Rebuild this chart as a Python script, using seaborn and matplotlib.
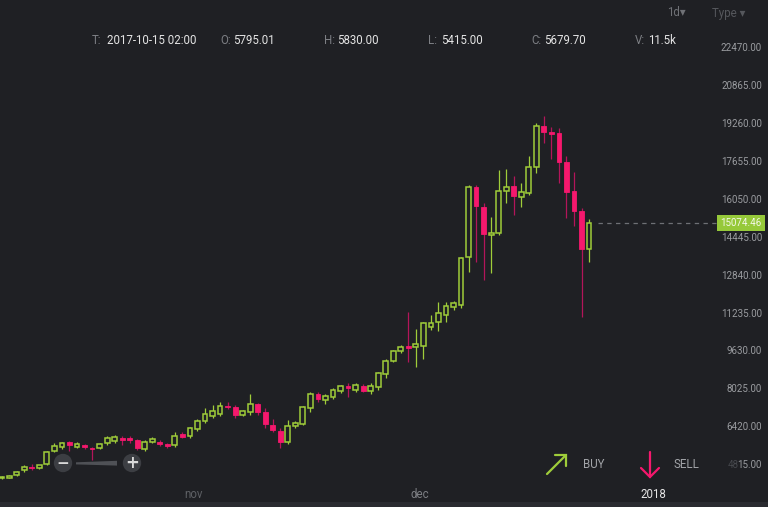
import numpy as np
import pandas as pd
import matplotlib
matplotlib.use("Agg")
import matplotlib.pyplot as plt
import matplotlib.dates as mdates
from matplotlib.patches import Ellipse, Polygon, Rectangle
import seaborn as sns

# ---------------- data (daily candles) ----------------
dates = pd.date_range("2017-10-06", periods=79, freq="D")
opens = [4260, 4285, 4400, 4610, 4750, 4695, 4850, 5415, 5585, 5795.01,
         5585, 5670, 5555, 5545, 5740, 5840, 5980, 5980, 5890, 5500,
         5800, 5790, 5700, 5670, 6120, 6040, 6345, 6685, 6910, 6980,
         7330, 7290, 6960, 7055, 7405, 7080, 6515, 6275, 5790, 6490,
         6560, 7220, 7815, 7575, 7690, 7970, 8155, 8000, 8170, 7970,
         8113, 8675, 9226, 9662, 9830, 9805, 9875, 10685, 10869, 11175,
         11527, 11598, 13618, 16583, 15760, 14550, 14660, 16440, 16638, 16185,
         16330, 17430, 19180, 18940, 18895, 17667, 16426, 15592, 13957]
highs = [4360, 4400, 4560, 4820, 4850, 4840, 5420, 5740, 5810, 5830.00,
         5790, 5710, 5580, 5760, 6060, 6110, 6060, 6040, 5940, 5880,
         5990, 5880, 5770, 6200, 6200, 6430, 6750, 7250, 7380, 7500,
         7500, 7350, 7170, 7810, 7440, 7250, 6760, 6390, 6730, 6700,
         7330, 7925, 7925, 7815, 8070, 8230, 8280, 8280, 8240, 8280,
         8770, 9300, 9700, 9900, 11310, 10570, 10890, 11190, 11720, 11740,
         11780, 13650, 16680, 16680, 15930, 15338, 17315, 17345, 17060, 16775,
         17910, 19320, 19600, 19150, 19080, 17910, 17245, 15693, 15227]
lows = [4230, 4260, 4370, 4510, 4600, 4670, 4830, 5360, 5520, 5415.00,
        5550, 5510, 5040, 5510, 5650, 5740, 5680, 5740, 5460, 5400,
        5740, 5640, 5560, 5600, 5950, 5970, 6280, 6620, 6820, 6880,
        7185, 6830, 6900, 6950, 6950, 6380, 6210, 5540, 5720, 6380,
        6520, 7080, 7500, 7392, 7620, 7890, 7715, 7930, 7920, 7830,
        8000, 8500, 9180, 9550, 9200, 8960, 9300, 10520, 10500, 10870,
        11385, 11470, 13010, 13430, 12657, 12940, 14563, 15930, 15410, 15760,
        16260, 17175, 18445, 17770, 16777, 15270, 14944, 11103, 13432]
closes = [4330, 4370, 4515, 4750, 4680, 4810, 5385, 5640, 5740, 5679.70,
          5710, 5575, 5500, 5710, 5970, 6020, 5895, 5890, 5545, 5800,
          5920, 5700, 5615, 6065, 6010, 6380, 6685, 6970, 7110, 7330,
          7265, 6955, 7125, 7405, 7080, 6545, 6305, 5790, 6490, 6600,
          7265, 7816, 7617, 7745, 8000, 8170, 8070, 8200, 7960, 8170,
          8705, 9226, 9650, 9820, 9790, 9935, 10825, 10830, 11260, 11556,
          11695, 13576, 16583, 15791, 14605, 14660, 16440, 16610, 16226, 16370,
          17455, 19180, 18940, 18840, 17667, 16396, 15580, 13957, 15074.46]

price_ticks = [4815.00, 6420.00, 8025.00, 9630.00, 11235.00, 12840.00,
               14445.00, 16050.00, 17655.00, 19260.00, 20865.00, 22470.00]
month_labels = ["nov", "dec", "2018"]
month_dates = pd.to_datetime(["2017-11-01", "2017-12-01", "2018-01-01"])
header_keys = ["T:", "O:", "H:", "L:", "C:", "V:"]
header_vals = ["2017-10-15 02:00", "5795.01", "5830.00", "5415.00", "5679.70", "11.5k"]
last_price = closes[-1]

df = pd.DataFrame({"date": dates, "open": opens, "high": highs,
                   "low": lows, "close": closes})

# ---------------- style ----------------
BG = "#1f2024"
GREEN = "#9fcd3a"
RED = "#f5186d"
RED_WICK = "#b3155a"
TXT = "#9a9ca0"

sns.set_theme(style="dark", rc={"axes.facecolor": BG, "figure.facecolor": BG,
                                "axes.edgecolor": BG, "axes.grid": False})
plt.rcParams["font.family"] = ["Roboto", "DejaVu Sans"]

W, H = 768, 507
fig = plt.figure(figsize=(W / 100, H / 100), dpi=100)
ax = fig.add_axes([0, 0, 1, 1])
ax.set_facecolor(BG)
for s in ax.spines.values():
    s.set_visible(False)
ax.set_xticks([])
ax.set_yticks([])

x = mdates.date2num(df["date"]) + 0.5
x0 = x[0]
px_per_day = 7.53
ax.set_xlim(x0 - 1.7 / px_per_day, x0 + (W - 1.7) / px_per_day)
ax.set_ylim(24515 - 42.35 * H, 24515)

up = df["close"] >= df["open"]
bw = 0.64
min_h = 55

# wicks
ax.vlines(x[up], df["low"][up], df["high"][up], color=GREEN, lw=0.9, zorder=2)
ax.vlines(x[~up], df["low"][~up], df["high"][~up], color=RED_WICK, lw=0.9, zorder=2)

# bodies
body_lo = np.minimum(df["open"], df["close"])
body_h = np.maximum(np.abs(df["close"] - df["open"]), min_h)
ax.bar(x[up], body_h[up], bottom=body_lo[up], width=bw, facecolor=BG,
       edgecolor=GREEN, linewidth=1.1, zorder=3)
ax.bar(x[~up], body_h[~up], bottom=body_lo[~up], width=bw, facecolor=RED,
       edgecolor=RED, linewidth=0.6, zorder=3)

# last price dashed line
xpix_last = 598
ax.hlines(last_price, x0 + (xpix_last - 1.7) / px_per_day,
          x0 + (716 - 1.7) / px_per_day, color="#6e7075", lw=0.9,
          linestyles=(0, (3.5, 3.5)), zorder=2)

# price axis labels (right, inside)
trans = ax.get_yaxis_transform()
for p in price_ticks:
    if p == price_ticks[0]:
        ax.text(738.5 / W, p, "48", transform=trans, ha="right", va="center",
                fontsize=7, color="#46484d")
        ax.text(762 / W, p, "15.00", transform=trans, ha="right", va="center",
                fontsize=7, color=TXT)
    else:
        ax.text(762 / W, p, f"{p:.2f}", transform=trans, ha="right", va="center",
                fontsize=7, color=TXT)

# last price tag
ax.add_patch(Rectangle((717 / W, last_price - 340), 48 / W, 680, transform=trans,
                       facecolor="#96c93a", edgecolor="none", zorder=4))
ax.text(741 / W, last_price, f"{last_price:.2f}", transform=trans, ha="center",
        va="center", fontsize=7, color="#f4f8ea", zorder=5)

# bottom strip and month labels
fig.patches.append(Rectangle((0, 0), 1, 5 / H, transform=fig.transFigure,
                             facecolor="#2a2b30", edgecolor="none"))
xtrans = ax.get_xaxis_transform()
mcolors = ["#5e6065", "#7c7e83", "#e6e6e6"]
for d, lab, c in zip(month_dates, month_labels, mcolors):
    ax.text(mdates.date2num(d), 1 - 494 / H, lab, transform=xtrans,
            ha="center", va="center", fontsize=8.3, color=c)

# header row
key_x = [92, 220, 324, 428, 531, 635]
for kx, k, v in zip(key_x, header_keys, header_vals):
    fig.text(kx, H - 41, k, transform=None, ha="left", va="center",
             fontsize=8.3, color="#7d7f84")
    val_x = kx + (15 if k == "T:" else 13)
    fig.text(val_x, H - 41, v, transform=None, ha="left", va="center",
             fontsize=8.3, color="#e4e4e4")

fig.text(676, H - 13, "1d\u25BE", transform=None, ha="center", va="center",
         fontsize=8.3, color="#6f7176")
fig.text(729, H - 13, "Type \u25BE", transform=None, ha="center", va="center",
         fontsize=8.3, color="#55575c")

# zoom widget
def ell(cx, cy, r, color):
    return Ellipse((cx / W, 1 - cy / H), 2 * r / W, 2 * r / H,
                   transform=fig.transFigure, facecolor=color, edgecolor="none")
fig.patches.append(Polygon([(76 / W, 1 - 462.3 / H), (117 / W, 1 - 460.8 / H),
                            (117 / W, 1 - 465.6 / H), (76 / W, 1 - 464.4 / H)],
                           closed=True, transform=fig.transFigure,
                           facecolor="#4f5156", edgecolor="none"))
fig.patches.append(ell(63, 463, 9.2, "#3c3e43"))
fig.patches.append(ell(132, 463, 9.2, "#3c3e43"))
fig.text(63, H - 463, "\u2212", transform=None, ha="center", va="center",
         fontsize=11, color="#d9d9d9", fontweight="bold", family="DejaVu Sans")
fig.text(132, H - 463, "+", transform=None, ha="center", va="center",
         fontsize=12, color="#d9d9d9", fontweight="bold", family="DejaVu Sans")

# BUY / SELL icons
def fline(xs, ys, color):
    fig.lines.append(plt.Line2D([v / W for v in xs], [1 - v / H for v in ys],
                                transform=fig.transFigure, color=color, lw=1.6,
                                solid_capstyle="round", solid_joinstyle="miter"))

fline([547, 566], [474, 455], GREEN)
fline([555, 566, 566], [455, 455, 466], GREEN)
fig.text(583, H - 465, "BUY", transform=None, ha="left", va="center",
         fontsize=8.3, color="#a3a5a9")
fline([650, 650], [452, 477], RED)
fline([641, 650, 659], [468, 477, 468], RED)
fig.text(674, H - 465, "SELL", transform=None, ha="left", va="center",
         fontsize=8.3, color="#a3a5a9")

fig.savefig("out.png", dpi=100, facecolor=BG)
